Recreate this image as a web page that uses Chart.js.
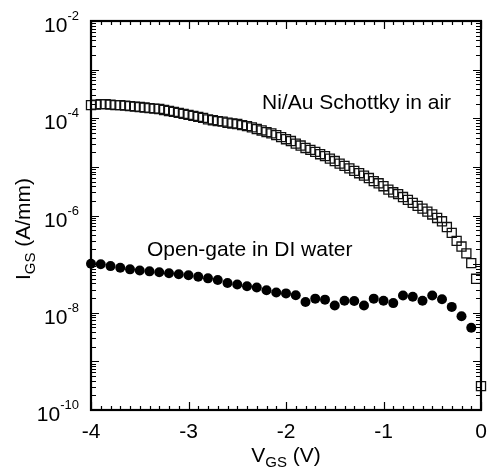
<!DOCTYPE html>
<html>
<head>
<meta charset="utf-8">
<script src="https://cdn.jsdelivr.net/npm/chart.js@4"></script>
<style>
  html, body { margin: 0; padding: 0; background: #fff; }
</style>
</head>
<body>
<canvas id="ivChart" width="491" height="470"></canvas>
<script>
// Ni/Au Schottky in air (open squares), V_GS in V, I_GS in A/mm
const squareV = [-4.00, -3.95, -3.90, -3.85, -3.80, -3.75, -3.70, -3.65, -3.60, -3.55,
  -3.50, -3.45, -3.40, -3.35, -3.30, -3.25, -3.20, -3.15, -3.10, -3.05,
  -3.00, -2.95, -2.90, -2.85, -2.80, -2.75, -2.70, -2.65, -2.60, -2.55,
  -2.50, -2.45, -2.40, -2.35, -2.30, -2.25, -2.20, -2.15, -2.10, -2.05,
  -2.00, -1.95, -1.90, -1.85, -1.80, -1.75, -1.70, -1.65, -1.60, -1.55,
  -1.50, -1.45, -1.40, -1.35, -1.30, -1.25, -1.20, -1.15, -1.10, -1.05,
  -1.00, -0.95, -0.90, -0.85, -0.80, -0.75, -0.70, -0.65, -0.60, -0.55,
  -0.50, -0.45, -0.40, -0.35, -0.30, -0.25, -0.20, -0.15, -0.10, -0.05, 0.00]
const squareI = [1.86e-4, 1.91e-4, 1.95e-4, 1.95e-4, 1.91e-4, 1.86e-4, 1.86e-4, 1.82e-4, 1.78e-4, 1.74e-4,
  1.70e-4, 1.66e-4, 1.62e-4, 1.58e-4, 1.55e-4, 1.48e-4, 1.41e-4, 1.35e-4, 1.29e-4, 1.23e-4,
  1.17e-4, 1.12e-4, 1.07e-4, 1.02e-4, 9.5e-5, 9.1e-5, 8.7e-5, 8.5e-5, 8.1e-5, 7.8e-5,
  7.6e-5, 7.2e-5, 6.9e-5, 6.5e-5, 6.0e-5, 5.6e-5, 5.2e-5, 4.9e-5, 4.5e-5, 4.1e-5,
  3.7e-5, 3.4e-5, 3.0e-5, 2.75e-5, 2.45e-5, 2.24e-5, 2.04e-5, 1.82e-5, 1.66e-5, 1.48e-5,
  1.32e-5, 1.17e-5, 1.05e-5, 9.3e-6, 8.3e-6, 7.4e-6, 6.6e-6, 5.9e-6, 5.1e-6, 4.6e-6,
  4.0e-6, 3.4e-6, 3.0e-6, 2.75e-6, 2.4e-6, 2.1e-6, 1.82e-6, 1.58e-6, 1.38e-6, 1.20e-6,
  1.05e-6, 8.9e-7, 7.6e-7, 5.8e-7, 4.4e-7, 3.0e-7, 2.3e-7, 1.66e-7, 1.05e-7, 5.0e-8, 3.1e-10]

// Open-gate in DI water (filled circles)
const circleV = [-4.0, -3.9, -3.8, -3.7, -3.6, -3.5, -3.4, -3.3, -3.2, -3.1,
  -3.0, -2.9, -2.8, -2.7, -2.6, -2.5, -2.4, -2.3, -2.2, -2.1,
  -2.0, -1.9, -1.8, -1.7, -1.6, -1.5, -1.4, -1.3, -1.2, -1.1,
  -1.0, -0.9, -0.8, -0.7, -0.6, -0.5, -0.4, -0.3, -0.2, -0.1]
const circleI = [1.02e-7, 9.9e-8, 9.1e-8, 8.4e-8, 7.8e-8, 7.4e-8, 7.1e-8, 6.8e-8, 6.5e-8, 6.2e-8,
  5.9e-8, 5.5e-8, 5.1e-8, 4.7e-8, 4.1e-8, 3.8e-8, 3.5e-8, 3.3e-8, 2.9e-8, 2.6e-8,
  2.5e-8, 2.3e-8, 1.66e-8, 1.95e-8, 1.86e-8, 1.41e-8, 1.76e-8, 1.74e-8, 1.41e-8, 1.95e-8,
  1.76e-8, 1.58e-8, 2.26e-8, 2.14e-8, 1.76e-8, 2.26e-8, 1.9e-8, 1.32e-8, 8.5e-9, 4.9e-9]

const xTicks = [-4, -3, -2, -1, 0]
const xTickLabels = ['-4', '-3', '-2', '-1', '0']
const yTickExps = [-10, -8, -6, -4, -2]
const seriesLabels = ['Ni/Au Schottky in air', 'Open-gate in DI water']

const FONT = '"Liberation Sans", Arial, Helvetica, sans-serif'

const toPoints = (xs, ys) => xs.map((v, i) => ({ x: v, y: ys[i] }))

// draws the framed box, inward ticks, tick labels, titles and annotations
const frame = {
  id: 'frame',
  afterDraw(chart) {
    const ctx = chart.ctx
    const a = chart.chartArea
    const xs = chart.scales.x
    const ys = chart.scales.y
    ctx.save()
    ctx.strokeStyle = '#000'
    ctx.fillStyle = '#000'

    // x ticks: every 0.1 V, long at whole volts
    ctx.lineWidth = 1.2
    ctx.beginPath()
    for (let i = 0; i <= 40; i++) {
      const px = Math.round(xs.getPixelForValue(-4 + i / 10)) + 0.5
      const len = i % 10 === 0 ? 8 : 4
      ctx.moveTo(px, a.bottom); ctx.lineTo(px, a.bottom - len)
      ctx.moveTo(px, a.top); ctx.lineTo(px, a.top + len)
    }
    // y ticks: decades long, 2..9 short
    for (let e = -10; e <= -2; e++) {
      for (let m = 1; m <= 9; m++) {
        if (e === -2 && m > 1) break
        const py = Math.round(ys.getPixelForValue(m * Math.pow(10, e))) + 0.5
        const len = m === 1 ? 8 : 5
        ctx.moveTo(a.left, py); ctx.lineTo(a.left + len, py)
        ctx.moveTo(a.right, py); ctx.lineTo(a.right - len, py)
      }
    }
    ctx.stroke()

    // box
    ctx.lineWidth = 2.2
    ctx.strokeRect(a.left, a.top, a.right - a.left, a.bottom - a.top)

    // x tick labels
    ctx.font = '21px ' + FONT
    ctx.textAlign = 'center'
    ctx.textBaseline = 'alphabetic'
    xTicks.forEach((v, i) => {
      ctx.fillText(xTickLabels[i], xs.getPixelForValue(v), 438)
    })

    // y tick labels 10^e
    yTickExps.forEach(e => {
      const py = ys.getPixelForValue(Math.pow(10, e))
      ctx.font = '13px ' + FONT
      const sup = String(e)
      const supW = ctx.measureText(sup).width
      ctx.textAlign = 'right'
      ctx.fillText(sup, 79, py - 1)
      ctx.font = '21px ' + FONT
      ctx.fillText('10', 79 - supW, py + 11)
    })

    // titles with subscript
    const drawSubTitle = (main, sub, rest, cx, cy) => {
      ctx.font = '21px ' + FONT
      const w1 = ctx.measureText(main).width
      const w3 = ctx.measureText(rest).width
      ctx.font = '15px ' + FONT
      const w2 = ctx.measureText(sub).width
      let x0 = cx - (w1 + w2 + w3) / 2
      ctx.textAlign = 'left'
      ctx.font = '21px ' + FONT
      ctx.fillText(main, x0, cy)
      ctx.font = '15px ' + FONT
      ctx.fillText(sub, x0 + w1, cy + 5)
      ctx.font = '21px ' + FONT
      ctx.fillText(rest, x0 + w1 + w2, cy)
    }
    drawSubTitle('V', 'GS', ' (V)', (a.left + a.right) / 2, 462)

    ctx.save()
    ctx.translate(30, 229)
    ctx.rotate(-Math.PI / 2)
    drawSubTitle('I', 'GS', ' (A/mm)', 0, 0)
    ctx.restore()

    // series annotations
    ctx.font = '21px ' + FONT
    ctx.textAlign = 'left'
    ctx.fillText(seriesLabels[0], 262, 109)
    ctx.fillText(seriesLabels[1], 147, 256)

    ctx.restore()
  }
}

const ctx = document.getElementById('ivChart')
const ivChart = new Chart(ctx, {
  type: 'scatter',
  data: {
    datasets: [{
      label: seriesLabels[0],
      data: toPoints(squareV, squareI),
      pointStyle: 'rect',
      pointRadius: 6.4,
      backgroundColor: 'rgba(255,255,255,0)',
      borderColor: '#111',
      borderWidth: 1.3,
      clip: false
    }, {
      label: seriesLabels[1],
      data: toPoints(circleV, circleI),
      pointStyle: 'circle',
      pointRadius: 5,
      backgroundColor: '#000',
      borderColor: '#000',
      borderWidth: 0,
      clip: false
    }]
  },
  options: {
    responsive: false,
    animation: false,
    layout: { padding: { left: 91, top: 21, right: 10, bottom: 60 } },
    plugins: {
      legend: { display: false },
      tooltip: { enabled: false }
    },
    scales: {
      x: { type: 'linear', min: -4, max: 0, display: false },
      y: { type: 'logarithmic', min: 1e-10, max: 1e-2, display: false }
    }
  },
  plugins: [frame]
})
</script>
</body>
</html>
